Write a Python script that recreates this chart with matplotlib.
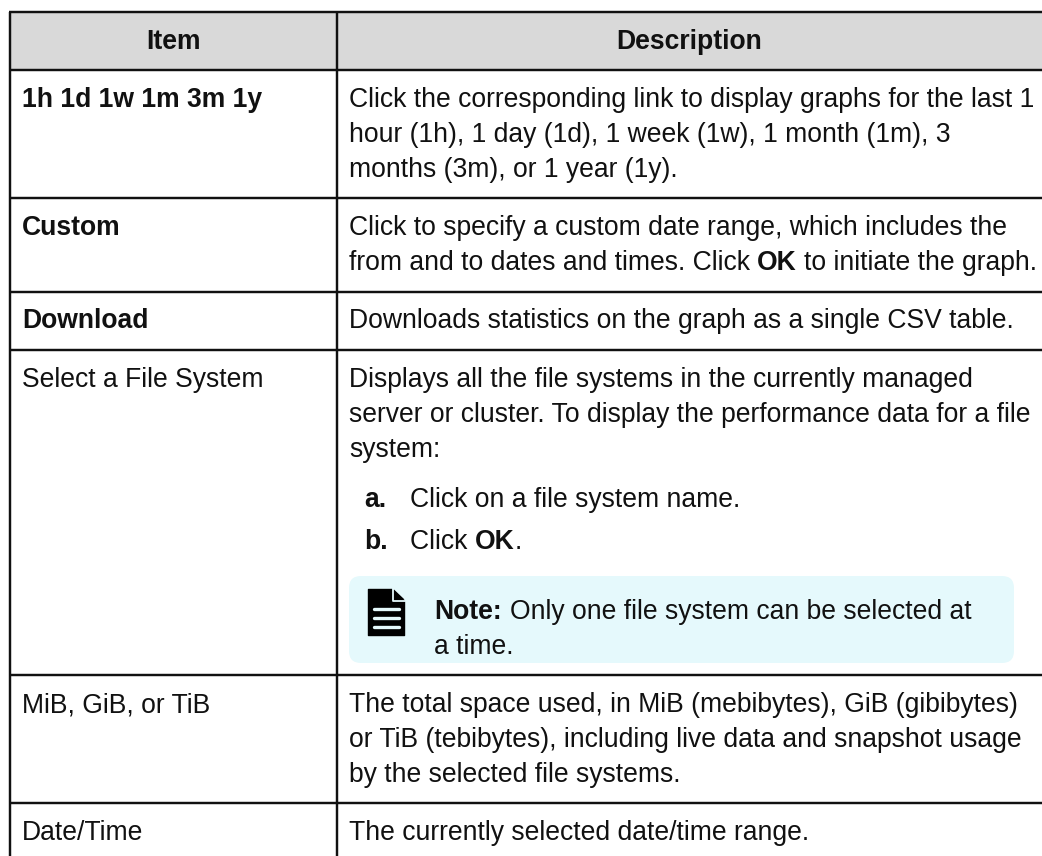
import matplotlib
matplotlib.use("Agg")
import matplotlib.pyplot as plt
from matplotlib.patches import FancyBboxPatch, Polygon, Rectangle

plt.rcParams['font.family'] = ['Liberation Sans', 'DejaVu Sans']

W, H = 1042, 856
FS = 26.5 * 0.72
INK = '#111111'
TINT = '#e5f9fc'

headers = ["Item", "Description"]
items = ["1h 1d 1w 1m 3m 1y", "Custom", "Download", "Select a File System",
         "MiB, GiB, or TiB", "Date/Time"]
item_bold = [True, True, True, False, False, False]
# Each line is a list of (text, bold) runs
desc_1 = [[("Click the corresponding link to display graphs for the last 1", False)],
          [("hour (1h), 1 day (1d), 1 week (1w), 1 month (1m), 3", False)],
          [("months (3m), or 1 year (1y).", False)]]
desc_2 = [[("Click to specify a custom date range, which includes the", False)],
          [("from and to dates and times. Click ", False), ("OK", True), (" to initiate the graph.", False)]]
desc_3 = [[("Downloads statistics on the graph as a single CSV table.", False)]]
desc_4 = [[("Displays all the file systems in the currently managed", False)],
          [("server or cluster. To display the performance data for a file", False)],
          [("system:", False)]]
step_labels = ["a.", "b."]
step_texts = [[("Click on a file system name.", False)],
              [("Click ", False), ("OK", True), (".", False)]]
note_lines = [[("Note:", True), (" Only one file system can be selected at", False)],
              [("a time.", False)]]
desc_5 = [[("The total space used, in MiB (mebibytes), GiB (gibibytes)", False)],
          [("or TiB (tebibytes), including live data and snapshot usage", False)],
          [("by the selected file systems.", False)]]
desc_6 = [[("The currently selected date/time range.", False)]]

fig = plt.figure(figsize=(W / 100, H / 100), dpi=100, facecolor='white')
ax = fig.add_axes([0, 0, 1, 1])
ax.set_xlim(0, W)
ax.set_ylim(H, 0)
ax.axis('off')
rend = fig.canvas.get_renderer()


def advance(s, weight):
    """Width of s in pixels, counting leading and trailing spaces."""
    a = ax.text(0, 0, '|' + s + '|', fontsize=FS, fontweight=weight)
    b = ax.text(0, 0, '||', fontsize=FS, fontweight=weight)
    w = a.get_window_extent(rend).width - b.get_window_extent(rend).width
    a.remove()
    b.remove()
    return w


def runs(x, y, line):
    for s, bold in line:
        weight = 'bold' if bold else 'normal'
        stripped = s.lstrip(' ')
        lead = advance(s[:len(s) - len(stripped)], weight) if stripped != s else 0
        ax.text(x + lead, y, stripped, fontsize=FS, color=INK, va='baseline', ha='left',
                fontweight=weight)
        x += advance(s, weight)


def block(x, y, lines, pitch=35):
    for i, l in enumerate(lines):
        runs(x, y + i * pitch, l)


X0, X1, TOP = 9.5, 336.7, 11.5
rows = [70, 198, 292, 350, 675, 803]

ax.add_patch(Rectangle((X0, TOP), W - X0, rows[0] - TOP, fc='#d9d9d9', ec='none'))

# Note box
R = 12
ax.add_patch(FancyBboxPatch((349 + R, 576 + R), 1014 - 349 - 2 * R, 663 - 576 - 2 * R,
                            boxstyle=f'round,pad={R},rounding_size={R}', fc=TINT, ec='none'))

# Note icon
ax.add_patch(Polygon([(368.5, 589.5), (392, 589.5), (404.5, 601), (404.5, 635.5), (368.5, 635.5)],
                     closed=True, fc='black', ec='black', lw=1, joinstyle='round'))
ax.plot([392.5, 392.5, 405], [589, 600.5, 600.5], color=TINT, lw=1.3)
ax.add_patch(Polygon([(394, 589), (405, 589), (405, 599.5)], closed=True, fc=TINT, ec='none'))
ax.add_patch(Polygon([(394, 589.5), (404.5, 599.5), (394, 599.5)], closed=True, fc='black', ec='none'))
for yy in (609, 618, 627):
    ax.plot([373.5, 399], [yy, yy], color=TINT, lw=2.4, solid_capstyle='round')

# Grid
lw = 1.75
for y in [TOP] + rows:
    ax.plot([X0 - 1, W], [y, y], color='#111111', lw=lw, solid_capstyle='butt')
for x in (X0, X1):
    ax.plot([x, x], [TOP, H], color='#111111', lw=lw, solid_capstyle='butt')

# Header
ax.text((X0 + X1) / 2, 49, headers[0], fontsize=FS, fontweight='bold', color=INK, ha='center', va='baseline')
ax.text((X1 + W) / 2, 49, headers[1], fontsize=FS, fontweight='bold', color=INK, ha='center', va='baseline')

# Item column
for it, b, y in zip(items, item_bold, [107, 235, 328, 387, 712, 840]):
    ax.text(22, y, it, fontsize=FS, color=INK, fontweight='bold' if b else 'normal', va='baseline')

TX = 349
block(TX, 107, desc_1)
block(TX, 235, desc_2)
block(TX, 328, desc_3)
block(TX, 387, desc_4)
for lab, line, y in zip(step_labels, step_texts, [507, 549]):
    ax.text(364, y, lab, fontsize=FS, fontweight='bold', color=INK, va='baseline')
    runs(410, y, line)
block(434.5, 619, note_lines)
block(TX, 712, desc_5)
block(TX, 840, desc_6)

fig.savefig('out.png', dpi=100, facecolor='white')
